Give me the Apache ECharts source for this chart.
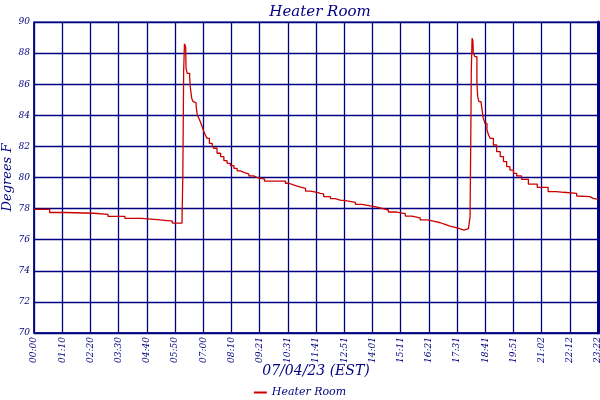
<!DOCTYPE html>
<html>
<head>
<meta charset="utf-8">
<script src="https://cdn.jsdelivr.net/npm/echarts@6/dist/echarts.min.js"></script>
<style>
  html, body { margin: 0; padding: 0; background: #fff; }
  #main { width: 600px; height: 400px; }
</style>
</head>
<body>
<div id="main"></div>
<script>
// minutes since midnight, 07/04/23
var times = [0, 39, 77, 148, 184, 226, 267, 306, 344, 368,
  370, 372, 374, 377, 378, 381, 387, 389, 392, 395, 399, 403, 406, 410, 414,
  418, 422, 426, 430, 436, 443, 447, 455, 464, 472, 480, 488, 497, 505, 513,
  523, 534, 546, 555, 573, 625, 633, 645, 658, 675, 687, 704, 712, 720, 737,
  749, 761, 778, 799, 815, 836, 848, 865, 881, 902, 923, 939, 960, 977, 993,
  1010, 1022, 1034, 1047, 1058, 1069, 1080, 1084,
  1086, 1087, 1089, 1091, 1092, 1096, 1101, 1103, 1106, 1111, 1115, 1117, 1121,
  1126, 1130, 1134, 1142, 1150, 1159, 1167, 1175, 1183, 1192, 1200, 1212, 1229,
  1251, 1278, 1299, 1316, 1349, 1353, 1382, 1390, 1402];
// degrees F
var temps = [77.95, 77.75, 77.7, 77.63, 77.5, 77.37, 77.29, 77.2, 77.07, 77.3,
  80.2, 86.8, 88.6, 88.4, 87.0, 86.7, 86.4, 85.7, 85.1, 84.9, 84.8, 84.6, 84.0, 83.8, 83.55,
  83.27, 82.95, 82.73, 82.52, 82.2, 82.03, 81.88, 81.56, 81.34, 81.08, 80.91, 80.76, 80.59, 80.42, 80.31,
  80.23, 80.1, 79.99, 79.9, 79.77, 79.63, 79.52, 79.41, 79.3, 79.13, 79.04, 78.98, 78.94, 78.77, 78.64,
  78.55, 78.5, 78.4, 78.27, 78.17, 78.12, 78.02, 77.91, 77.78, 77.67, 77.52, 77.41, 77.27, 77.2, 77.09,
  76.99, 76.88, 76.8, 76.71, 76.62, 76.71, 76.75, 77.48,
  83.27, 86.8, 88.95, 88.8, 88.0, 87.77, 86.06, 85.2, 84.88, 84.77, 84.13, 83.8, 83.48,
  83.05, 82.73, 82.52, 82.09, 81.66, 81.34, 81.02, 80.7, 80.48, 80.27, 80.1, 79.88, 79.58,
  79.37, 79.09, 79.05, 78.98, 78.81, 78.77, 78.66, 78.6, 78.6];
var tickLabels = ['00:00', '01:10', '02:20', '03:30', '04:40', '05:50', '07:00',
  '08:10', '09:21', '10:31', '11:41', '12:51', '14:01', '15:11', '16:21', '17:31',
  '18:41', '19:51', '21:02', '22:12', '23:22'];

var navy = '#000080';
var serif = 'DejaVu Serif';
var step = 1402 / 20;

var pts = [];
for (var i = 0; i < times.length; i++) {
  pts.push([times[i], temps[i]]);
}

var chart = echarts.init(document.getElementById('main'));
chart.setOption({
  backgroundColor: '#fff',
  animation: false,
  title: {
    text: 'Heater Room',
    left: 315,
    textAlign: 'center',
    top: 0,
    textStyle: { color: navy, fontFamily: serif, fontStyle: 'italic', fontWeight: 'normal', fontSize: 15 }
  },
  legend: {
    top: 382,
    left: 'center',
    icon: 'rect',
    itemWidth: 13,
    itemHeight: 2,
    itemGap: 4,
    textStyle: { color: navy, fontFamily: serif, fontStyle: 'italic', fontSize: 11 },
    data: ['Heater Room']
  },
  grid: {
    left: 34, right: 2, top: 22, bottom: 67,
    outerBoundsMode: 'none',
    containLabel: false,
    show: true, borderColor: navy, borderWidth: 1
  },
  xAxis: {
    type: 'value',
    min: 0,
    max: 1402,
    interval: step,
    name: '07/04/23 (EST)',
    nameLocation: 'middle',
    nameGap: 31,
    nameMoveOverlap: false,
    nameTextStyle: { color: navy, fontFamily: serif, fontStyle: 'italic', fontSize: 14 },
    axisLine: { lineStyle: { color: navy, width: 1.5 } },
    axisTick: { show: false },
    splitLine: { lineStyle: { color: navy, width: 1.3 } },
    axisLabel: {
      rotate: 90,
      margin: 4,
      color: navy,
      fontFamily: serif,
      fontStyle: 'italic',
      fontSize: 9,
      showMaxLabel: true,
      formatter: function (v) { return tickLabels[Math.round(v / step)]; }
    }
  },
  yAxis: [{
    type: 'value',
    min: 70,
    max: 90,
    interval: 2,
    name: 'Degrees F',
    nameLocation: 'middle',
    nameGap: 20,
    nameMoveOverlap: false,
    nameTextStyle: { color: navy, fontFamily: serif, fontStyle: 'italic', fontSize: 13 },
    axisLine: { show: true, lineStyle: { color: navy, width: 1.5 } },
    axisTick: { show: false },
    splitLine: { lineStyle: { color: navy, width: 1.3 } },
    axisLabel: { color: navy, fontFamily: serif, fontStyle: 'italic', fontSize: 9, margin: 4 }
  }, {
    type: 'value',
    position: 'right',
    min: 70,
    max: 90,
    axisLine: { show: true, lineStyle: { color: navy, width: 3 } },
    axisTick: { show: false },
    axisLabel: { show: false },
    splitLine: { show: false }
  }],
  series: [{
    name: 'Heater Room',
    type: 'line',
    step: 'end',
    showSymbol: false,
    data: pts,
    lineStyle: { color: '#cc0000', width: 1.3 },
    itemStyle: { color: '#cc0000' }
  }]
});
</script>
</body>
</html>
